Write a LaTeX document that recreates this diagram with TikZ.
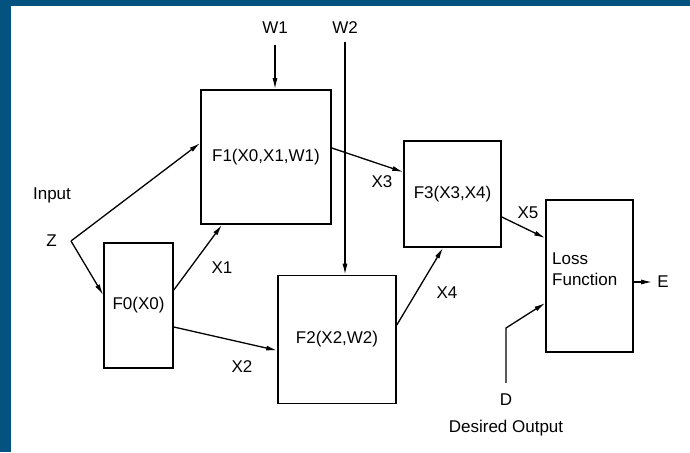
\documentclass[tikz,border=0pt]{standalone}
\usepackage{fontspec}
\setmainfont{Liberation Sans}
\usepackage{tikz}
\usetikzlibrary{arrows.meta,positioning,calc}
\definecolor{frameblue}{RGB}{4,82,127}

\begin{document}
\begin{tikzpicture}[
    x=1pt, y=-1pt,
    >={Latex[length=11pt,width=5pt]},
    font=\fontsize{17}{21}\selectfont,
    fn/.style={draw, line width=1.6pt, rectangle, inner sep=0pt, align=center},
    lbl/.style={inner sep=0pt, text depth=0pt},
    flow/.style={->, line width=1.3pt}
]
\useasboundingbox (0,0) rectangle (690,452);
\fill[white] (0,0) rectangle (690,452);
\fill[frameblue] (0,0) rectangle (690,6);
\fill[frameblue] (0,0) rectangle (11,452);

% blocks
\node[fn, minimum width=69pt, minimum height=125pt] (F0) at (138.5,305.5) {F0(X0)};
\node[fn, minimum width=130pt, minimum height=134pt] (F1) at (266,157) {F1(X0,X1,W1)};
\node[fn, minimum width=118pt, minimum height=128pt] (F2) at (337,339.5) {F2(X2,W2)};
\node[fn, minimum width=97pt, minimum height=106pt] (F3) at (452.5,194) {F3(X3,X4)};
\node[fn, minimum width=87pt, minimum height=152pt] (Loss) at (589.5,276) {};
\node[lbl, anchor=west, align=left] (losstxt) at (552,269) {Loss\\Function};

% inputs and outputs
\coordinate (z) at (71,241);
\node[lbl, left=14pt of z] (zlab) {Z};
\node[lbl] (input) at (52,194) {Input};
\node[lbl] (w1) at (275,28) {W1};
\node[lbl] (w2) at (345,28) {W2};
\node[lbl] (d) at (506,400) {D};
\node[lbl] (desired) at (506,426) {Desired Output};
\node[lbl] (e) at (663,282) {E};
\coordinate (dbend) at (506,328);

% signal labels
\node[lbl] (x1) at (222,268) {X1};
\node[lbl] (x2) at (242,367) {X2};
\node[lbl] (x3) at (382,182) {X3};
\node[lbl] (x4) at (447,293) {X4};
\node[lbl] (x5) at (528,213) {X5};

\draw[flow] ([yshift=-11pt]w1.south) -- (w1 |- F1.north);
\draw[flow] ([yshift=-8pt]w2.south) -- (w2 |- F2.north);
\draw[flow] (z) -- ([yshift=14pt]F1.west);
\draw[flow] (z) -- ([yshift=10.5pt]F0.west);
\draw[flow] ([yshift=15.5pt]F0.east) -- ([xshift=-44pt]F1.south);
\draw[flow] ([yshift=-21.5pt]F0.east) -- ([yshift=-11pt]F2.west);
\draw[flow] ([yshift=9pt]F1.east) -- ([yshift=22pt]F3.west);
\draw[flow] ([yshift=14.5pt]F2.east) -- ([xshift=-9.5pt]F3.south);
\draw[flow] ([yshift=-23pt]F3.east) -- ([yshift=38pt]Loss.west);
\draw[flow] ([yshift=11pt]d.north) -- (dbend) -- ([yshift=-27pt]Loss.west);
\draw[flow] (Loss.east |- e) -- ([xshift=-5pt]e.west);
\end{tikzpicture}
\end{document}
